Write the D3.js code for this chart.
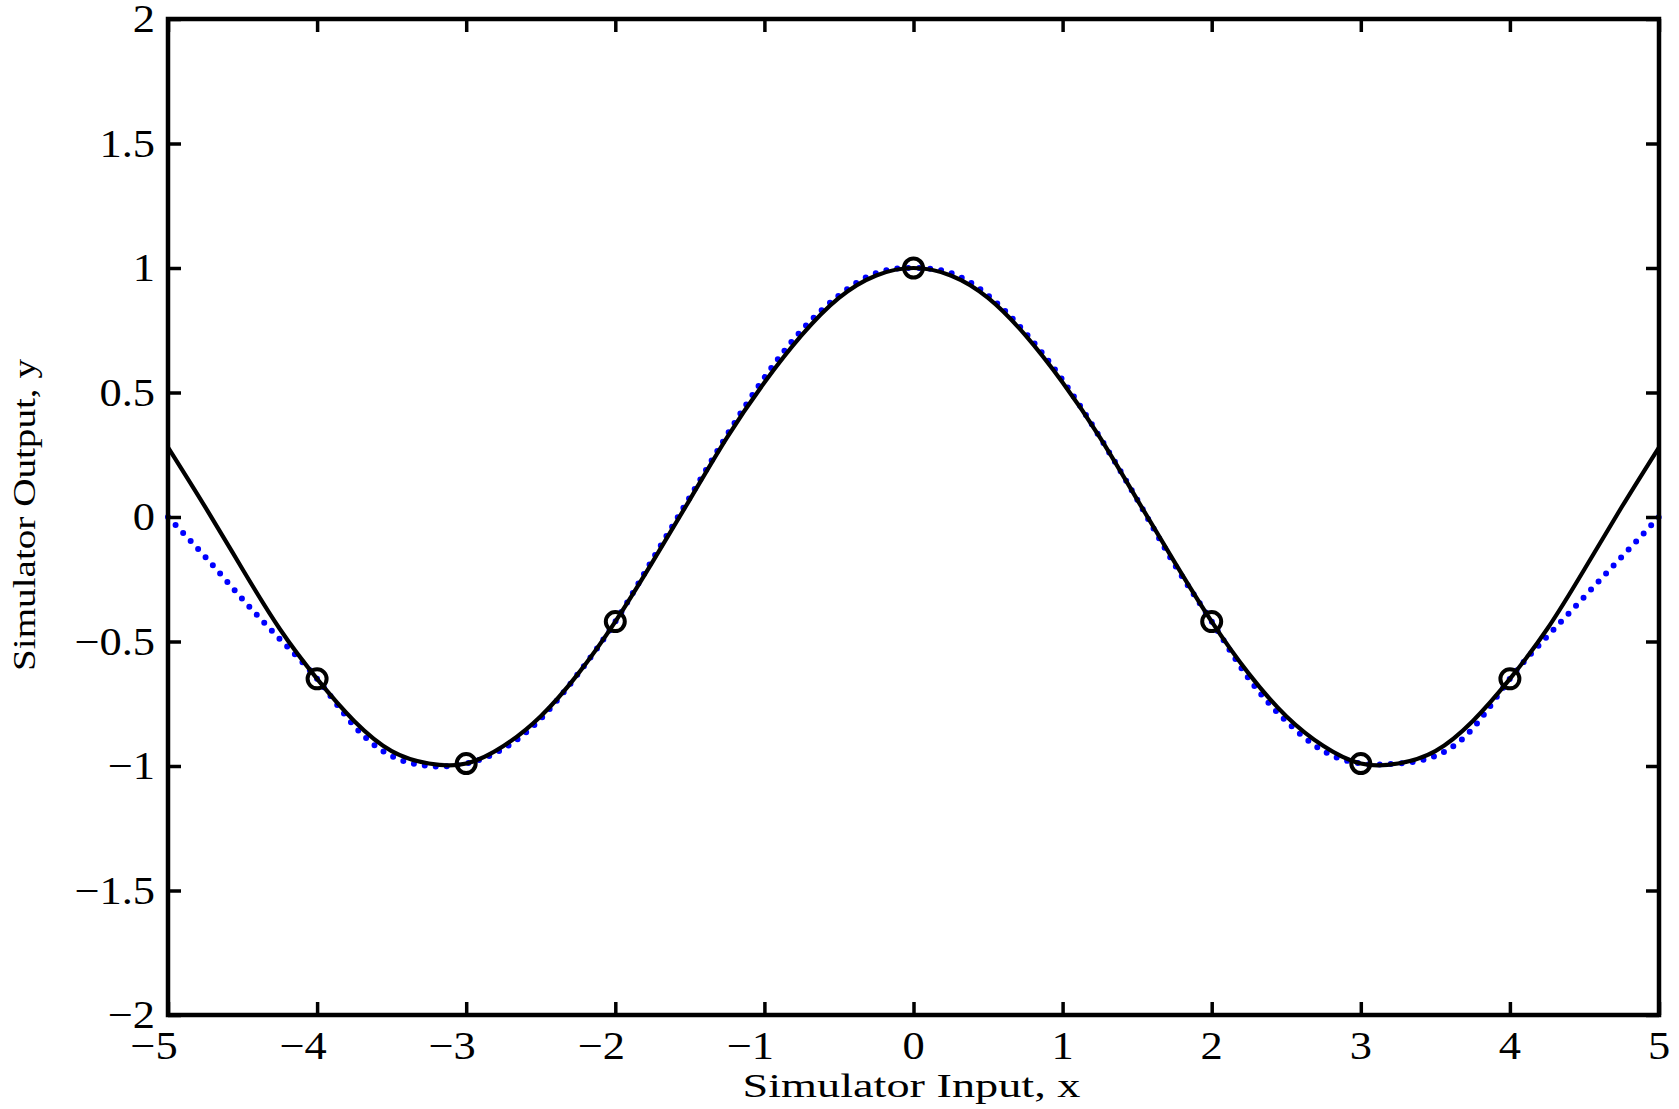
<!DOCTYPE html>
<html>
<head>
<meta charset="utf-8">
<script src="https://cdn.jsdelivr.net/npm/d3@7"></script>
<style>
  html, body { margin: 0; padding: 0; background: #fff; }
  svg { display: block; }
  text { font-family: "Liberation Serif", "Times New Roman", serif; fill: #000; }
</style>
</head>
<body>
<svg id="chart" width="1679" height="1109"></svg>
<script>
// ---- data ----
const xTicks = [-5, -4, -3, -2, -1, 0, 1, 2, 3, 4, 5];
const xTickLabels = ["\u22125", "\u22124", "\u22123", "\u22122", "\u22121", "0", "1", "2", "3", "4", "5"];
const yTicks = [-2, -1.5, -1, -0.5, 0, 0.5, 1, 1.5, 2];
const yTickLabels = ["\u22122", "\u22121.5", "\u22121", "\u22120.5", "0", "0.5", "1", "1.5", "2"];

const curveX = [-5, -4.75, -4.5, -4.25, -4, -3.75, -3.5, -3.25, -3, -2.75, -2.5, -2.25, -2, -1.75, -1.5, -1.25, -1, -0.75, -0.5, -0.25,
                0, 0.25, 0.5, 0.75, 1, 1.25, 1.5, 1.75, 2, 2.25, 2.5, 2.75, 3, 3.25, 3.5, 3.75, 4, 4.25, 4.5, 4.75, 5];
// black solid line (simulator)
const simulatorY = [0.28, 0.04, -0.21, -0.45, -0.65, -0.82, -0.94, -0.99, -0.99, -0.92, -0.80, -0.63, -0.42, -0.18, 0.07, 0.32, 0.54, 0.73, 0.88, 0.97,
                    1.00, 0.97, 0.88, 0.73, 0.54, 0.32, 0.07, -0.18, -0.42, -0.63, -0.80, -0.92, -0.99, -0.99, -0.94, -0.82, -0.65, -0.45, -0.21, 0.04, 0.28];
// blue dotted line (emulator)
const emulatorY = [0.00, -0.16, -0.33, -0.49, -0.65, -0.84, -0.96, -1.00, -0.99, -0.93, -0.81, -0.63, -0.42, -0.17, 0.08, 0.33, 0.56, 0.75, 0.89, 0.98,
                   1.00, 0.98, 0.89, 0.74, 0.55, 0.32, 0.07, -0.19, -0.42, -0.65, -0.82, -0.94, -0.99, -0.99, -0.96, -0.85, -0.65, -0.48, -0.32, -0.16, 0.00];
// design points (circles)
const designX = [-4, -3, -2, 0, 2, 3, 4];
const designY = [-0.65, -0.99, -0.42, 1.00, -0.42, -0.99, -0.65];

const xTitle = "Simulator Input, x";
const yTitle = "Simulator Output, y";

// ---- layout ----
const L = 168, R = 1659, T = 19, B = 1015;
const svg = d3.select("#chart");
const x = d3.scaleLinear().domain([-5, 5]).range([L, R]);
const y = d3.scaleLinear().domain([-2, 2]).range([B, T]);

const fs = 39, sx = 1.14;

const emuData = curveX.map((v, i) => [v, emulatorY[i]]);
const simData = curveX.map((v, i) => [v, simulatorY[i]]);
const line = d3.line().x(d => x(d[0])).y(d => y(d[1])).curve(d3.curveNatural);

// blue dotted
svg.append("path").datum(emuData)
  .attr("d", line).attr("fill", "none").attr("stroke", "#0000ff")
  .attr("stroke-width", 6).attr("stroke-linecap", "round")
  .attr("stroke-dasharray", "0 11");

// black solid
svg.append("path").datum(simData)
  .attr("d", line).attr("fill", "none").attr("stroke", "#000")
  .attr("stroke-width", 4.2);

svg.selectAll("circle.pt").data(designX.map((v, i) => [v, designY[i]]))
  .enter().append("circle").attr("class", "pt")
  .attr("cx", d => x(d[0])).attr("cy", d => y(d[1])).attr("r", 9.5)
  .attr("fill", "none").attr("stroke", "#000").attr("stroke-width", 4);

// axes (ticks inward, mirrored)
function styleAxis(g) {
  g.select(".domain").remove();
  g.selectAll(".tick line").attr("stroke", "#000").attr("stroke-width", 3.5);
  g.selectAll(".tick text").remove();
}
svg.append("g").attr("transform", `translate(0,${B})`)
  .call(d3.axisBottom(x).tickValues(xTicks).tickSizeInner(-13).tickSizeOuter(0)).call(styleAxis);
svg.append("g").attr("transform", `translate(0,${T})`)
  .call(d3.axisTop(x).tickValues(xTicks).tickSizeInner(-13).tickSizeOuter(0)).call(styleAxis);
svg.append("g").attr("transform", `translate(${L},0)`)
  .call(d3.axisLeft(y).tickValues(yTicks).tickSizeInner(-13).tickSizeOuter(0)).call(styleAxis);
svg.append("g").attr("transform", `translate(${R},0)`)
  .call(d3.axisRight(y).tickValues(yTicks).tickSizeInner(-13).tickSizeOuter(0)).call(styleAxis);

// box
svg.append("rect").attr("x", L).attr("y", T).attr("width", R - L).attr("height", B - T)
  .attr("fill", "none").attr("stroke", "#000").attr("stroke-width", 4.5);

// tick labels
svg.selectAll("text.xl").data(xTicks).enter().append("text").attr("class", "xl")
  .attr("transform", (d) => `translate(${x(d) + (d < 0 ? -14 : 0)},1059) scale(${sx},1)`)
  .attr("text-anchor", "middle").attr("font-size", fs)
  .text((d, i) => xTickLabels[i]);

svg.selectAll("text.yl").data(yTicks).enter().append("text").attr("class", "yl")
  .attr("transform", (d) => `translate(155,${y(d) + 0.34 * fs}) scale(${sx},1)`)
  .attr("text-anchor", "end").attr("font-size", fs)
  .text((d, i) => yTickLabels[i]);

// titles
svg.append("text").attr("x", (L + R) / 2 - 2).attr("y", 1097)
  .attr("text-anchor", "middle").attr("font-size", 34)
  .attr("textLength", 338).attr("lengthAdjust", "spacingAndGlyphs")
  .text(xTitle);

svg.append("text").attr("transform", `translate(35,${(T + B) / 2 - 2}) rotate(-90)`)
  .attr("text-anchor", "middle").attr("font-size", 31)
  .attr("textLength", 312).attr("lengthAdjust", "spacingAndGlyphs")
  .text(yTitle);
</script>
</body>
</html>
